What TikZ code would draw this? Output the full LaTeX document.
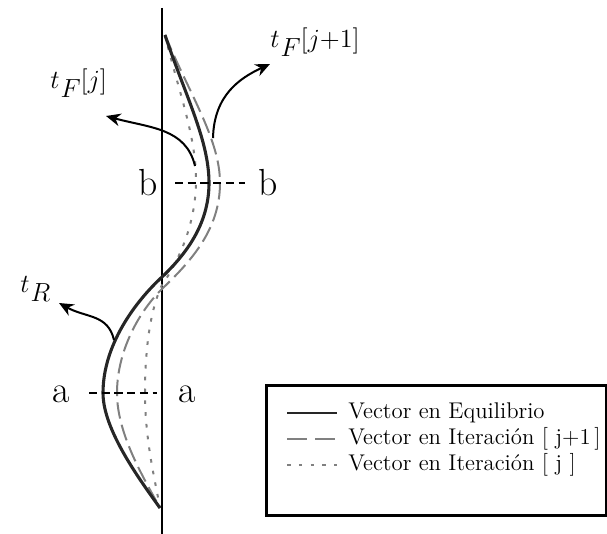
\documentclass[tikz,border=0pt]{standalone}
\usepackage{fontspec}
\usetikzlibrary{arrows.meta}
\tikzset{
 axisline/.style={line width=1.1pt},
 eqcurve/.style={line width=1.7pt, black!85},
 itnext/.style={line width=1.1pt, black!50, dash pattern=on 9pt off 3.5pt},
 itprev/.style={line width=1.1pt, black!50, dash pattern=on 2pt off 4.5pt},
 cutline/.style={line width=0.9pt, dash pattern=on 4.5pt off 2.5pt},
 forcearrow/.style={line width=1.1pt, -{Stealth[length=8pt,width=7pt]}},
 cutlabel/.style={font=\huge, inner sep=0pt, anchor=base},
 forcelabel/.style={font=\Large, inner sep=0pt, anchor=base west},
 legendtext/.style={anchor=west, inner sep=0pt, font=\fontsize{12.5}{15}\selectfont},
 legendbox/.style={line width=1.4pt},
}
\begin{document}
\begin{tikzpicture}[x=0.55pt,y=-0.55pt]
\useasboundingbox (0,0) rectangle (607,534);
% axis
\coordinate (axtop) at (162,8);
\coordinate (axbot) at (162,534);
\draw[axisline] (axtop) -- (axbot);
% iteration j (dotted)
\draw[itprev] (165,35) .. controls (178,90) and (196,135) .. (196,180)
  .. controls (196,225) and (178,262) .. (162,285)
  .. controls (150,310) and (145,350) .. (145,393)
  .. controls (145,440) and (155,480) .. (160,508);
% iteration j+1 (dashed)
\draw[itnext] (165,35) .. controls (190,95) and (220,140) .. (220,183)
  .. controls (220,230) and (190,262) .. (163,288)
  .. controls (140,310) and (117,350) .. (117,393)
  .. controls (117,435) and (145,480) .. (160,508);
% equilibrium (solid)
\draw[eqcurve] (165,35) .. controls (185,95) and (209,140) .. (209,183)
  .. controls (209,225) and (185,255) .. (162,277)
  .. controls (135,302) and (103,345) .. (103,393)
  .. controls (103,430) and (140,480) .. (160,508);
% cut lines
\coordinate (bL) at (175,183);
\coordinate (bR) at (245,183);
\coordinate (aL) at (89,393);
\coordinate (aR) at (157,393);
\draw[cutline] (bL) -- (bR);
\draw[cutline] (aL) -- (aR);
\node[cutlabel] (b1) at (148,196) {b};
\node[cutlabel] (b2) at (268,196) {b};
\node[cutlabel] (a1) at (61,402) {a};
\node[cutlabel] (a2) at (187,402) {a};
% forces
\coordinate (fjs) at (195,166);
\coordinate (fjt) at (106,116);
\draw[forcearrow] (fjs) .. controls (186,128) and (150,128) .. (fjt);
\coordinate (fks) at (213,138);
\coordinate (fkt) at (270,64);
\draw[forcearrow] (fks) .. controls (214,95) and (240,78) .. (fkt);
\coordinate (rs) at (114,340);
\coordinate (rt) at (59,303);
\draw[forcearrow] (rs) .. controls (108,314) and (86,318) .. (rt);
\node[forcelabel] (lfj) at (50,98) {$^{\textstyle t}F^{\textstyle [j]}$};
\node[forcelabel] (lfk) at (270,57) {$^{\textstyle t}F^{\textstyle [j{+}1]}$};
\node[forcelabel] (lr) at (20,302) {$^{\textstyle t}R$};
% legend
\node[legendbox, draw, minimum width=340*0.55pt, minimum height=130*0.55pt, anchor=north west, inner sep=0pt] (legend) at (265,384) {};
\coordinate (l1a) at (287,413); \coordinate (l1b) at (337,413);
\coordinate (l2a) at (287,439); \coordinate (l2b) at (337,439);
\coordinate (l3a) at (287,465); \coordinate (l3b) at (337,465);
\draw[eqcurve, line width=1.3pt] (l1a) -- (l1b);
\draw[itnext, dash pattern=on 11pt off 4.5pt] (l2a) -- (l2b);
\draw[itprev] (l3a) -- (l3b);
\node[legendtext] (t1) at (348,413) {Vector en Equilibrio};
\node[legendtext] (t2) at (348,439) {Vector en Iteración [ j+1\,]};
\node[legendtext] (t3) at (348,465) {Vector en Iteración [ j ]};
\end{tikzpicture}
\end{document}
